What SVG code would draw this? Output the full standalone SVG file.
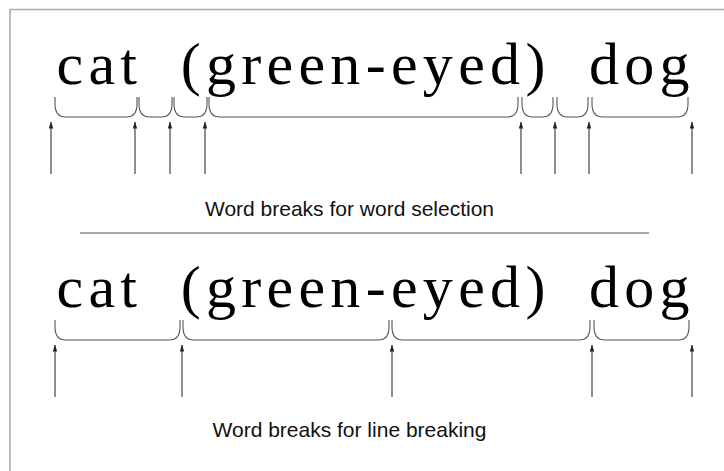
<svg xmlns="http://www.w3.org/2000/svg" width="724" height="471" viewBox="0 0 724 471">
<defs>
<style>
.big{font-family:"Liberation Serif","Times New Roman",serif;font-size:60px;letter-spacing:5.3px;word-spacing:18px;fill:#000}
.cap{font-family:"Liberation Sans",Arial,sans-serif;font-size:21px;fill:#111;text-anchor:middle}
.brace{fill:none;stroke:#555;stroke-width:1.1}
.arrow{fill:none;stroke:#333;stroke-width:1.1;marker-end:url(#ah)}
.frame{fill:none;stroke:#aaa;stroke-width:1.6}
.sep{stroke:#888;stroke-width:1.3}
</style>
<marker id="ah" markerUnits="userSpaceOnUse" markerWidth="7" markerHeight="5" viewBox="0 0 7 5" refX="6.5" refY="2.5" orient="auto">
<path d="M0,0.3 L7,2.5 L0,4.7 Z" fill="#222"/>
</marker>
</defs>
<rect width="724" height="471" fill="#fff"/>
<path class="frame" d="M10,471 V9.5 H724"/>
<line class="sep" x1="80" y1="233" x2="649" y2="233"/>

<g id="row1">
<text class="big" x="56.5" y="84">cat (green-eyed) dog</text>
<g id="braces1">
<path class="brace" d="M55,97 V104 Q55,117 66,117 H126 Q137,117 137,104 V97"/>
<path class="brace" d="M139,97 V104 Q139,117 150,117 H161 Q172,117 172,104 V97"/>
<path class="brace" d="M174,97 V104 Q174,117 185,117 H196 Q207,117 207,104 V97"/>
<path class="brace" d="M209,97 V104 Q209,117 220,117 H507 Q518,117 518,104 V97"/>
<path class="brace" d="M522,97 V104 Q522,117 533,117 H542 Q553,117 553,104 V97"/>
<path class="brace" d="M557,97 V104 Q557,117 568,117 H577 Q588,117 588,104 V97"/>
<path class="brace" d="M592,97 V104 Q592,117 603,117 H677 Q688,117 688,104 V97"/>
</g>
<text class="cap" x="349.5" y="216">Word breaks for word selection</text>
</g>

<g id="row2">
<text class="big" x="56.5" y="307">cat (green-eyed) dog</text>
<g id="braces2">
<path class="brace" d="M55,320 V327 Q55,340 66,340 H169 Q180,340 180,327 V320"/>
<path class="brace" d="M183,320 V327 Q183,340 194,340 H378 Q389,340 389,327 V320"/>
<path class="brace" d="M392,320 V327 Q392,340 403,340 H579 Q590,340 590,327 V320"/>
<path class="brace" d="M594,320 V327 Q594,340 605,340 H678 Q689,340 689,327 V320"/>
</g>
<text class="cap" x="349.5" y="437">Word breaks for line breaking</text>
</g>

<g id="connectors">
<line class="arrow" x1="51" y1="174" x2="51" y2="122"/>
<line class="arrow" x1="135" y1="174" x2="135" y2="122"/>
<line class="arrow" x1="170" y1="174" x2="170" y2="122"/>
<line class="arrow" x1="205" y1="174" x2="205" y2="122"/>
<line class="arrow" x1="521" y1="174" x2="521" y2="122"/>
<line class="arrow" x1="555" y1="174" x2="555" y2="122"/>
<line class="arrow" x1="589" y1="174" x2="589" y2="122"/>
<line class="arrow" x1="692" y1="174" x2="692" y2="122"/>
<line class="arrow" x1="55" y1="397" x2="55" y2="345"/>
<line class="arrow" x1="182" y1="397" x2="182" y2="345"/>
<line class="arrow" x1="392" y1="397" x2="392" y2="345"/>
<line class="arrow" x1="592" y1="397" x2="592" y2="345"/>
<line class="arrow" x1="692" y1="397" x2="692" y2="345"/>
</g>
</svg>
